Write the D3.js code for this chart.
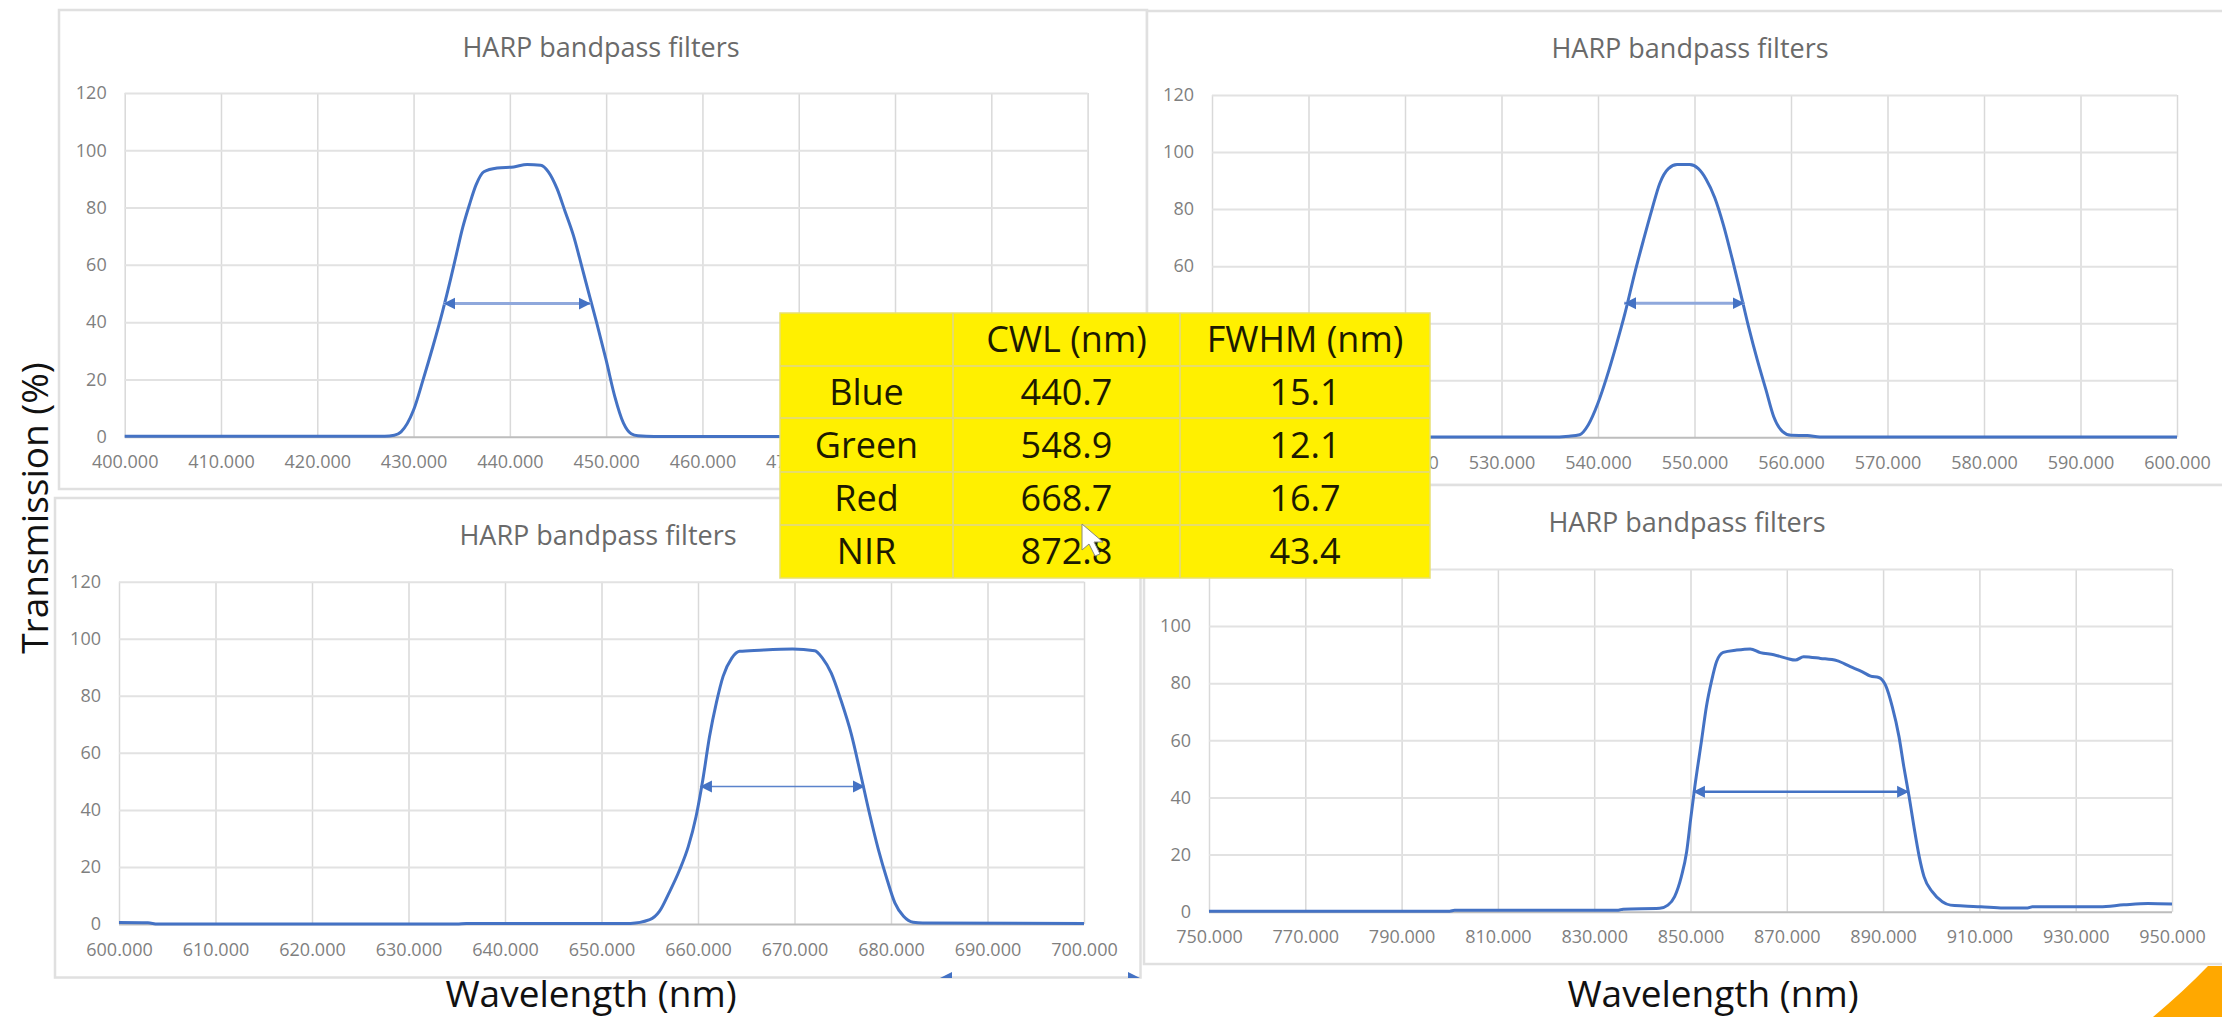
<!DOCTYPE html>
<html>
<head>
<meta charset="utf-8">
<script src="https://cdn.jsdelivr.net/npm/d3@7"></script>
<style>
  html, body { margin: 0; background: #fff; }
  svg { display: block; }
  text { font-family: "Open Sans", sans-serif; }
  .tick text { fill: #7f7f7f; font-size: 18px; }
  .chartTitle { fill: #6a6a6a; font-size: 27px; text-anchor: middle; }
  .sideLabel { fill: #111; font-size: 37px; text-anchor: middle; }
  .tableText { fill: #1c1a00; font-size: 36px; text-anchor: middle; }
</style>
</head>
<body>
<script>
const title = "HARP bandpass filters";
const yTicks = [0, 20, 40, 60, 80, 100, 120];

const blueWave = [400, 427, 428, 428.7, 430, 431, 432, 433, 433.9, 434.4, 435.1, 435.8, 436.5, 437.3, 438.7, 440.4, 441.8, 443.2, 444, 444.9, 445.7, 446.6, 447.5, 448.3, 449, 450, 450.9, 451.8, 452.6, 453.3, 455, 500];
const blueTrans = [0.2, 0.2, 0.5, 1.7, 9.3, 20, 31.4, 43.6, 55.8, 63, 73, 81, 88, 92.5, 93.8, 94.2, 95, 94.8, 92.5, 86.6, 79, 70.3, 59, 48.8, 40, 26.7, 14, 4.7, 1, 0.3, 0.1, 0.1];
const blueTicks = [400, 410, 420, 430, 440, 450, 460, 470, 480, 490, 500];

const greenWave = [500, 535, 537, 538.1, 539, 540, 540.9, 541.9, 542.8, 543.8, 544.7, 545.6, 546.4, 547.3, 548.2, 549.5, 550.4, 551.2, 552.1, 553, 553.9, 554.7, 555.6, 556.5, 557.4, 558.2, 559.1, 560, 561.7, 563, 600];
const greenTrans = [0.1, 0.1, 0.4, 0.9, 4.4, 12, 21, 32.4, 43.5, 57.5, 69, 80, 89, 94.2, 95.6, 95.6, 94.2, 90.5, 84, 74.4, 62.7, 51.6, 38.8, 27.2, 16.7, 7.3, 2.1, 0.7, 0.6, 0.1, 0.1];
const greenTicks = [500, 510, 520, 530, 540, 550, 560, 570, 580, 590, 600];

const redWave = [600, 603, 604, 635, 636, 653, 655, 656, 657, 658.1, 659, 659.8, 660.5, 661.2, 661.9, 662.6, 663.5, 664.3, 666.4, 669.8, 672.1, 672.9, 673.8, 674.8, 675.9, 676.9, 677.8, 678.7, 679.6, 680.4, 681.3, 682.3, 683.3, 700];
const redTrans = [0.5, 0.4, 0, 0, 0.2, 0.2, 1.5, 4.4, 10.9, 19, 27.2, 37.7, 50.6, 65.8, 77.5, 86.8, 93.2, 95.6, 96, 96.4, 95.8, 93.2, 88, 78.6, 66.4, 51.8, 38.3, 26, 15.5, 7.4, 2.7, 0.6, 0.35, 0.2];
const redTicks = [600, 610, 620, 630, 640, 650, 660, 670, 680, 690, 700];

const nirWave = [750, 800, 801, 835, 836, 843.6, 845.3, 846.7, 848.1, 849.2, 850, 850.9, 852.3, 853.3, 854.4, 855.4, 856.8, 859.6, 862.4, 864.5, 867.3, 870, 871.8, 873.5, 877, 880.4, 883.2, 885.7, 887.4, 889.1, 890.5, 891.9, 893.3, 894.3, 895.4, 896.4, 897.5, 898.5, 900.2, 902.3, 904, 906.8, 910.3, 915, 920, 921, 935, 940, 945, 950];
const nirTrans = [0.2, 0.2, 0.5, 0.5, 0.9, 1.2, 2.3, 5.3, 12.3, 21, 32, 43.8, 60, 71.8, 81, 87.5, 90.8, 91.6, 92, 90.7, 90, 88.7, 88.1, 89.3, 88.7, 87.9, 85.8, 84, 82.5, 82, 79.3, 71.8, 61.3, 50.8, 40.3, 29.8, 19.3, 12.3, 7, 3.5, 2.3, 2, 1.75, 1.3, 1.3, 1.7, 1.7, 2.4, 2.9, 2.7];
const nirTicks = [750, 770, 790, 810, 830, 850, 870, 890, 910, 930, 950];

// FWHM arrows: from, to, height in %
const blueArrow = [433.1, 448.4, 46.5];
const greenArrow = [542.7, 555.2, 47];
const redArrow = [660.2, 677.3, 48.2];
const nirArrow = [850.5, 895.4, 42];

const tableHeader = ["", "CWL (nm)", "FWHM (nm)"];
const tableBands = ["Blue", "Green", "Red", "NIR"];
const tableCwl = ["440.7", "548.9", "668.7", "872.8"];
const tableFwhm = ["15.1", "12.1", "16.7", "43.4"];

const lineBlue = "#4472c4";

const svg = d3.select("body").append("svg")
  .attr("width", 2222)
  .attr("height", 1017);

const defs = svg.append("defs");
[["arrowEnd", "auto"], ["arrowStart", "auto-start-reverse"]].forEach(([id, orient]) => {
  defs.append("marker")
    .attr("id", id)
    .attr("viewBox", "0 0 10 10")
    .attr("refX", 10)
    .attr("refY", 5)
    .attr("markerUnits", "userSpaceOnUse")
    .attr("markerWidth", 12)
    .attr("markerHeight", 13)
    .attr("orient", orient)
    .append("path")
    .attr("d", "M0,0L10,5L0,10Z")
    .attr("fill", lineBlue);
});

function drawPanel({box, plot, titleX, titleY, wave, trans, ticks, arrow, arrowStyle}) {
  const g = svg.append("g");

  g.append("rect")
    .attr("x", box[0])
    .attr("y", box[1])
    .attr("width", box[2] - box[0])
    .attr("height", box[3] - box[1])
    .attr("fill", "#fff")
    .attr("stroke", "#e0e0e0")
    .attr("stroke-width", 2.5);

  const x = d3.scaleLinear().domain([ticks[0], ticks[ticks.length - 1]]).range([plot[0], plot[1]]);
  const y = d3.scaleLinear().domain([0, 120]).range([plot[3], plot[2]]);

  // vertical grid + tick labels
  const xAxis = g.append("g")
    .attr("transform", `translate(0,${plot[3]})`)
    .call(d3.axisBottom(x)
      .tickValues(ticks)
      .tickFormat(d3.format(".3f"))
      .tickSize(plot[2] - plot[3])
      .tickPadding(19));
  xAxis.select(".domain").remove();
  xAxis.selectAll(".tick line").attr("stroke", "#d9d9d9").attr("stroke-width", 1.5);

  const yAxis = g.append("g")
    .attr("transform", `translate(${plot[0]},0)`)
    .call(d3.axisLeft(y)
      .tickValues(yTicks)
      .tickSize(plot[0] - plot[1])
      .tickPadding(18));
  yAxis.select(".domain").remove();
  yAxis.selectAll(".tick line")
    .attr("stroke", d => d === 0 ? "#bdbdbd" : "#e2e2e2")
    .attr("stroke-width", 2);

  g.append("text")
    .attr("class", "chartTitle")
    .attr("x", titleX)
    .attr("y", titleY)
    .attr("dy", "0.35em")
    .text(title);

  const line = d3.line()
    .x((d, i) => x(wave[i]))
    .y(d => y(d))
    .curve(d3.curveMonotoneX);

  g.append("path")
    .datum(trans)
    .attr("fill", "none")
    .attr("stroke", lineBlue)
    .attr("stroke-width", 3)
    .attr("stroke-linejoin", "round")
    .attr("d", line);

  g.append("line")
    .attr("x1", x(arrow[0]))
    .attr("x2", x(arrow[1]))
    .attr("y1", y(arrow[2]))
    .attr("y2", y(arrow[2]))
    .attr("stroke", arrowStyle.color)
    .attr("stroke-width", arrowStyle.width)
    .attr("marker-start", "url(#arrowStart)")
    .attr("marker-end", "url(#arrowEnd)");
}

const paleArrow = {color: "#8fa8dc", width: 3};
const thinArrow = {color: "#5b83cb", width: 1.5};
const darkArrow = {color: "#4472c4", width: 2.5};

drawPanel({box: [59, 10, 1147, 489], plot: [124.7, 1087.6, 93, 436.7], titleX: 601, titleY: 48,
  wave: blueWave, trans: blueTrans, ticks: blueTicks, arrow: blueArrow, arrowStyle: paleArrow});
drawPanel({box: [1147, 11, 2230, 485], plot: [1212, 2177, 95, 437.3], titleX: 1690, titleY: 49,
  wave: greenWave, trans: greenTrans, ticks: greenTicks, arrow: greenArrow, arrowStyle: paleArrow});
drawPanel({box: [55, 498, 1140.5, 977.5], plot: [119, 1084, 581.7, 924], titleX: 598, titleY: 536,
  wave: redWave, trans: redTrans, ticks: redTicks, arrow: redArrow, arrowStyle: thinArrow});

// stray arrow tips left at the bottom edge of the red panel
svg.append("path").attr("d", "M940,978L952,972L952,978Z").attr("fill", lineBlue);
svg.append("path").attr("d", "M1128,972L1140,978L1128,978Z").attr("fill", lineBlue);

drawPanel({box: [1144, 485, 2230, 964], plot: [1209, 2172, 569, 911.7], titleX: 1687, titleY: 523,
  wave: nirWave, trans: nirTrans, ticks: nirTicks, arrow: nirArrow, arrowStyle: darkArrow});

// axis captions
svg.append("text")
  .attr("class", "sideLabel")
  .attr("transform", "translate(35,508) rotate(-90)")
  .attr("dy", "0.35em")
  .text("Transmission (%)");
svg.append("text")
  .attr("class", "sideLabel")
  .attr("x", 591)
  .attr("y", 994)
  .attr("dy", "0.35em")
  .text("Wavelength (nm)");
svg.append("text")
  .attr("class", "sideLabel")
  .attr("x", 1713)
  .attr("y", 994)
  .attr("dy", "0.35em")
  .text("Wavelength (nm)");

// yellow table over the middle of the charts
const colEdges = [780, 953, 1180, 1430];
const rowEdges = [313, 366, 418, 472, 525, 578];
const table = svg.append("g");

table.append("rect")
  .attr("x", colEdges[0])
  .attr("y", rowEdges[0])
  .attr("width", colEdges[3] - colEdges[0])
  .attr("height", rowEdges[5] - rowEdges[0])
  .attr("fill", "#fff000")
  .attr("stroke", "#e8e070")
  .attr("stroke-width", 1.5);

table.selectAll("line.row")
  .data(rowEdges.slice(1, -1))
  .join("line")
  .attr("class", "row")
  .attr("x1", colEdges[0])
  .attr("x2", colEdges[3])
  .attr("y1", d => d)
  .attr("y2", d => d)
  .attr("stroke", "#e6dc6a")
  .attr("stroke-width", 2);

table.selectAll("line.col")
  .data(colEdges.slice(1, -1))
  .join("line")
  .attr("class", "col")
  .attr("y1", rowEdges[0])
  .attr("y2", rowEdges[5])
  .attr("x1", d => d)
  .attr("x2", d => d)
  .attr("stroke", "#e6dc6a")
  .attr("stroke-width", 2);

const tableRows = [tableHeader].concat(tableBands.map((b, i) => [b, tableCwl[i], tableFwhm[i]]));
tableRows.forEach((row, r) => {
  row.forEach((cell, c) => {
    table.append("text")
      .attr("class", "tableText")
      .attr("x", (colEdges[c] + colEdges[c + 1]) / 2)
      .attr("y", (rowEdges[r] + rowEdges[r + 1]) / 2)
      .attr("dy", "0.35em")
      .text(cell);
  });
});

// mouse pointer sitting on the table
svg.append("path")
  .attr("d", "M1082,524L1082,550L1089,544L1095,556L1100,554L1094,542L1103,542Z")
  .attr("fill", "#fff")
  .attr("stroke", "#8a8a7a")
  .attr("stroke-width", 1);

// orange corner of the slide
svg.append("path")
  .attr("d", "M2153,1017Q2185,990 2208,966L2222,966L2222,1017Z")
  .attr("fill", "#ffa800");
</script>
</body>
</html>
